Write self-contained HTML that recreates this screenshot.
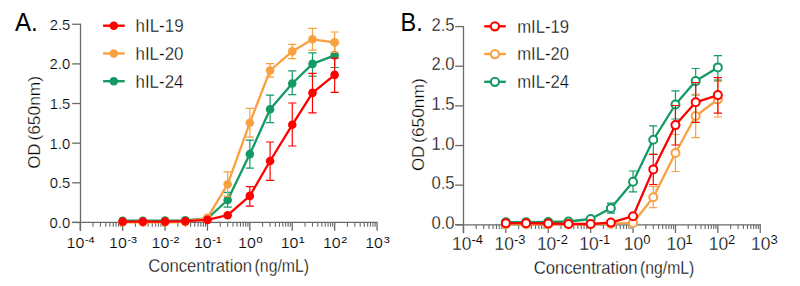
<!DOCTYPE html>
<html><head><meta charset="utf-8"><style>
html,body{margin:0;padding:0;background:#fff;width:800px;height:286px;overflow:hidden}
svg{display:block;font-family:"Liberation Sans",sans-serif}
</style></head><body>
<svg width="800" height="286" viewBox="0 0 800 286" font-family="Liberation Sans, sans-serif">
<path d="M80.50 23.65 V230.75" stroke="#6a6a6a" stroke-width="1.3" fill="none"/>
<path d="M72.20 222.45 H377.65" stroke="#6a6a6a" stroke-width="1.3" fill="none"/>
<path d="M72.20 222.45 H80.50" stroke="#6a6a6a" stroke-width="1.3"/>
<text x="49.60" y="227.89" font-size="15.50" fill="#000000" textLength="20.64" lengthAdjust="spacingAndGlyphs" stroke="#fff" stroke-width="0.23">0.0</text>
<path d="M72.20 182.81 H80.50" stroke="#6a6a6a" stroke-width="1.3"/>
<text x="49.64" y="188.25" font-size="15.50" fill="#000000" textLength="20.64" lengthAdjust="spacingAndGlyphs" stroke="#fff" stroke-width="0.23">0.5</text>
<path d="M72.20 143.17 H80.50" stroke="#6a6a6a" stroke-width="1.3"/>
<text x="49.60" y="148.61" font-size="15.50" fill="#000000" textLength="20.64" lengthAdjust="spacingAndGlyphs" stroke="#fff" stroke-width="0.23">1.0</text>
<path d="M72.20 103.53 H80.50" stroke="#6a6a6a" stroke-width="1.3"/>
<text x="49.64" y="108.97" font-size="15.50" fill="#000000" textLength="20.64" lengthAdjust="spacingAndGlyphs" stroke="#fff" stroke-width="0.23">1.5</text>
<path d="M72.20 63.89 H80.50" stroke="#6a6a6a" stroke-width="1.3"/>
<text x="49.60" y="69.33" font-size="15.50" fill="#000000" textLength="20.64" lengthAdjust="spacingAndGlyphs" stroke="#fff" stroke-width="0.23">2.0</text>
<path d="M72.20 24.25 H80.50" stroke="#6a6a6a" stroke-width="1.3"/>
<text x="49.64" y="29.70" font-size="15.50" fill="#000000" textLength="20.64" lengthAdjust="spacingAndGlyphs" stroke="#fff" stroke-width="0.23">2.5</text>
<path d="M80.25 222.45 V230.75" stroke="#6a6a6a" stroke-width="1.3"/>
<path d="M93.01 222.45 V226.75" stroke="#6a6a6a" stroke-width="1.1"/>
<path d="M100.48 222.45 V226.75" stroke="#6a6a6a" stroke-width="1.1"/>
<path d="M105.78 222.45 V226.75" stroke="#6a6a6a" stroke-width="1.1"/>
<path d="M109.89 222.45 V226.75" stroke="#6a6a6a" stroke-width="1.1"/>
<path d="M113.24 222.45 V226.75" stroke="#6a6a6a" stroke-width="1.1"/>
<path d="M116.08 222.45 V226.75" stroke="#6a6a6a" stroke-width="1.1"/>
<path d="M118.54 222.45 V226.75" stroke="#6a6a6a" stroke-width="1.1"/>
<path d="M120.71 222.45 V226.75" stroke="#6a6a6a" stroke-width="1.1"/>
<text x="66.61" y="247.90" font-size="15.50" fill="#000000" textLength="17.76" lengthAdjust="spacingAndGlyphs" stroke="#fff" stroke-width="0.23">10</text>
<text x="84.95" y="243.00" font-size="9.70" fill="#000000" textLength="9.66" lengthAdjust="spacingAndGlyphs" stroke="#fff" stroke-width="0.00">-4</text>
<path d="M122.65 222.45 V230.75" stroke="#6a6a6a" stroke-width="1.3"/>
<path d="M135.41 222.45 V226.75" stroke="#6a6a6a" stroke-width="1.1"/>
<path d="M142.88 222.45 V226.75" stroke="#6a6a6a" stroke-width="1.1"/>
<path d="M148.18 222.45 V226.75" stroke="#6a6a6a" stroke-width="1.1"/>
<path d="M152.29 222.45 V226.75" stroke="#6a6a6a" stroke-width="1.1"/>
<path d="M155.64 222.45 V226.75" stroke="#6a6a6a" stroke-width="1.1"/>
<path d="M158.48 222.45 V226.75" stroke="#6a6a6a" stroke-width="1.1"/>
<path d="M160.94 222.45 V226.75" stroke="#6a6a6a" stroke-width="1.1"/>
<path d="M163.11 222.45 V226.75" stroke="#6a6a6a" stroke-width="1.1"/>
<text x="109.09" y="247.90" font-size="15.50" fill="#000000" textLength="17.76" lengthAdjust="spacingAndGlyphs" stroke="#fff" stroke-width="0.23">10</text>
<text x="127.43" y="243.00" font-size="9.70" fill="#000000" textLength="9.66" lengthAdjust="spacingAndGlyphs" stroke="#fff" stroke-width="0.00">-3</text>
<path d="M165.05 222.45 V230.75" stroke="#6a6a6a" stroke-width="1.3"/>
<path d="M177.81 222.45 V226.75" stroke="#6a6a6a" stroke-width="1.1"/>
<path d="M185.28 222.45 V226.75" stroke="#6a6a6a" stroke-width="1.1"/>
<path d="M190.58 222.45 V226.75" stroke="#6a6a6a" stroke-width="1.1"/>
<path d="M194.69 222.45 V226.75" stroke="#6a6a6a" stroke-width="1.1"/>
<path d="M198.04 222.45 V226.75" stroke="#6a6a6a" stroke-width="1.1"/>
<path d="M200.88 222.45 V226.75" stroke="#6a6a6a" stroke-width="1.1"/>
<path d="M203.34 222.45 V226.75" stroke="#6a6a6a" stroke-width="1.1"/>
<path d="M205.51 222.45 V226.75" stroke="#6a6a6a" stroke-width="1.1"/>
<text x="151.52" y="247.90" font-size="15.50" fill="#000000" textLength="17.76" lengthAdjust="spacingAndGlyphs" stroke="#fff" stroke-width="0.23">10</text>
<text x="169.86" y="243.00" font-size="9.70" fill="#000000" textLength="9.66" lengthAdjust="spacingAndGlyphs" stroke="#fff" stroke-width="0.00">-2</text>
<path d="M207.45 222.45 V230.75" stroke="#6a6a6a" stroke-width="1.3"/>
<path d="M220.21 222.45 V226.75" stroke="#6a6a6a" stroke-width="1.1"/>
<path d="M227.68 222.45 V226.75" stroke="#6a6a6a" stroke-width="1.1"/>
<path d="M232.98 222.45 V226.75" stroke="#6a6a6a" stroke-width="1.1"/>
<path d="M237.09 222.45 V226.75" stroke="#6a6a6a" stroke-width="1.1"/>
<path d="M240.44 222.45 V226.75" stroke="#6a6a6a" stroke-width="1.1"/>
<path d="M243.28 222.45 V226.75" stroke="#6a6a6a" stroke-width="1.1"/>
<path d="M245.74 222.45 V226.75" stroke="#6a6a6a" stroke-width="1.1"/>
<path d="M247.91 222.45 V226.75" stroke="#6a6a6a" stroke-width="1.1"/>
<text x="193.92" y="247.90" font-size="15.50" fill="#000000" textLength="17.76" lengthAdjust="spacingAndGlyphs" stroke="#fff" stroke-width="0.23">10</text>
<text x="212.26" y="243.00" font-size="9.70" fill="#000000" textLength="9.66" lengthAdjust="spacingAndGlyphs" stroke="#fff" stroke-width="0.00">-1</text>
<path d="M249.85 222.45 V230.75" stroke="#6a6a6a" stroke-width="1.3"/>
<path d="M262.61 222.45 V226.75" stroke="#6a6a6a" stroke-width="1.1"/>
<path d="M270.08 222.45 V226.75" stroke="#6a6a6a" stroke-width="1.1"/>
<path d="M275.38 222.45 V226.75" stroke="#6a6a6a" stroke-width="1.1"/>
<path d="M279.49 222.45 V226.75" stroke="#6a6a6a" stroke-width="1.1"/>
<path d="M282.84 222.45 V226.75" stroke="#6a6a6a" stroke-width="1.1"/>
<path d="M285.68 222.45 V226.75" stroke="#6a6a6a" stroke-width="1.1"/>
<path d="M288.14 222.45 V226.75" stroke="#6a6a6a" stroke-width="1.1"/>
<path d="M290.31 222.45 V226.75" stroke="#6a6a6a" stroke-width="1.1"/>
<text x="238.05" y="247.90" font-size="15.50" fill="#000000" textLength="17.76" lengthAdjust="spacingAndGlyphs" stroke="#fff" stroke-width="0.23">10</text>
<text x="256.43" y="243.00" font-size="9.70" fill="#000000" textLength="6.04" lengthAdjust="spacingAndGlyphs" stroke="#fff" stroke-width="0.00">0</text>
<path d="M292.25 222.45 V230.75" stroke="#6a6a6a" stroke-width="1.3"/>
<path d="M305.01 222.45 V226.75" stroke="#6a6a6a" stroke-width="1.1"/>
<path d="M312.48 222.45 V226.75" stroke="#6a6a6a" stroke-width="1.1"/>
<path d="M317.78 222.45 V226.75" stroke="#6a6a6a" stroke-width="1.1"/>
<path d="M321.89 222.45 V226.75" stroke="#6a6a6a" stroke-width="1.1"/>
<path d="M325.24 222.45 V226.75" stroke="#6a6a6a" stroke-width="1.1"/>
<path d="M328.08 222.45 V226.75" stroke="#6a6a6a" stroke-width="1.1"/>
<path d="M330.54 222.45 V226.75" stroke="#6a6a6a" stroke-width="1.1"/>
<path d="M332.71 222.45 V226.75" stroke="#6a6a6a" stroke-width="1.1"/>
<text x="280.69" y="247.90" font-size="15.50" fill="#000000" textLength="17.76" lengthAdjust="spacingAndGlyphs" stroke="#fff" stroke-width="0.23">10</text>
<text x="298.70" y="243.00" font-size="9.70" fill="#000000" textLength="6.04" lengthAdjust="spacingAndGlyphs" stroke="#fff" stroke-width="0.00">1</text>
<path d="M334.65 222.45 V230.75" stroke="#6a6a6a" stroke-width="1.3"/>
<path d="M347.41 222.45 V226.75" stroke="#6a6a6a" stroke-width="1.1"/>
<path d="M354.88 222.45 V226.75" stroke="#6a6a6a" stroke-width="1.1"/>
<path d="M360.18 222.45 V226.75" stroke="#6a6a6a" stroke-width="1.1"/>
<path d="M364.29 222.45 V226.75" stroke="#6a6a6a" stroke-width="1.1"/>
<path d="M367.64 222.45 V226.75" stroke="#6a6a6a" stroke-width="1.1"/>
<path d="M370.48 222.45 V226.75" stroke="#6a6a6a" stroke-width="1.1"/>
<path d="M372.94 222.45 V226.75" stroke="#6a6a6a" stroke-width="1.1"/>
<path d="M375.11 222.45 V226.75" stroke="#6a6a6a" stroke-width="1.1"/>
<text x="322.97" y="247.90" font-size="15.50" fill="#000000" textLength="17.76" lengthAdjust="spacingAndGlyphs" stroke="#fff" stroke-width="0.23">10</text>
<text x="341.25" y="243.00" font-size="9.70" fill="#000000" textLength="6.04" lengthAdjust="spacingAndGlyphs" stroke="#fff" stroke-width="0.00">2</text>
<path d="M377.05 222.45 V230.75" stroke="#6a6a6a" stroke-width="1.3"/>
<text x="365.26" y="247.90" font-size="15.50" fill="#000000" textLength="17.76" lengthAdjust="spacingAndGlyphs" stroke="#fff" stroke-width="0.23">10</text>
<text x="383.67" y="243.00" font-size="9.70" fill="#000000" textLength="6.04" lengthAdjust="spacingAndGlyphs" stroke="#fff" stroke-width="0.00">3</text>
<path d="M227.68 192.40 V207.10 M223.58 192.40 H231.78 M223.58 207.10 H231.78" stroke="#149a64" stroke-width="1.2" fill="none"/>
<path d="M249.85 140.10 V168.20 M245.75 140.10 H253.95 M245.75 168.20 H253.95" stroke="#149a64" stroke-width="1.2" fill="none"/>
<path d="M270.08 95.20 V122.70 M265.98 95.20 H274.18 M265.98 122.70 H274.18" stroke="#149a64" stroke-width="1.2" fill="none"/>
<path d="M292.25 70.90 V94.60 M288.15 70.90 H296.35 M288.15 94.60 H296.35" stroke="#149a64" stroke-width="1.2" fill="none"/>
<path d="M312.48 52.90 V76.20 M308.38 52.90 H316.58 M308.38 76.20 H316.58" stroke="#149a64" stroke-width="1.2" fill="none"/>
<path d="M334.65 43.50 V67.50 M330.55 43.50 H338.75 M330.55 67.50 H338.75" stroke="#149a64" stroke-width="1.2" fill="none"/>
<path d="M122.65 220.70 L142.88 220.70 L165.05 220.60 L185.28 220.40 L207.45 218.50 L227.68 200.00 L249.85 154.10 L270.08 109.30 L292.25 83.50 L312.48 63.90 L334.65 55.40" stroke="#149a64" stroke-width="2.3" fill="none" stroke-linejoin="round"/>
<circle cx="122.65" cy="220.70" r="4.3" fill="#149a64"/>
<circle cx="142.88" cy="220.70" r="4.3" fill="#149a64"/>
<circle cx="165.05" cy="220.60" r="4.3" fill="#149a64"/>
<circle cx="185.28" cy="220.40" r="4.3" fill="#149a64"/>
<circle cx="207.45" cy="218.50" r="4.3" fill="#149a64"/>
<circle cx="227.68" cy="200.00" r="4.3" fill="#149a64"/>
<circle cx="249.85" cy="154.10" r="4.3" fill="#149a64"/>
<circle cx="270.08" cy="109.30" r="4.3" fill="#149a64"/>
<circle cx="292.25" cy="83.50" r="4.3" fill="#149a64"/>
<circle cx="312.48" cy="63.90" r="4.3" fill="#149a64"/>
<circle cx="334.65" cy="55.40" r="4.3" fill="#149a64"/>
<path d="M227.68 171.90 V196.40 M223.58 171.90 H231.78 M223.58 196.40 H231.78" stroke="#f9a040" stroke-width="1.2" fill="none"/>
<path d="M249.85 108.40 V137.10 M245.75 108.40 H253.95 M245.75 137.10 H253.95" stroke="#f9a040" stroke-width="1.2" fill="none"/>
<path d="M270.08 63.60 V77.20 M265.98 63.60 H274.18 M265.98 77.20 H274.18" stroke="#f9a040" stroke-width="1.2" fill="none"/>
<path d="M292.25 44.30 V58.70 M288.15 44.30 H296.35 M288.15 58.70 H296.35" stroke="#f9a040" stroke-width="1.2" fill="none"/>
<path d="M312.48 28.40 V50.20 M308.38 28.40 H316.58 M308.38 50.20 H316.58" stroke="#f9a040" stroke-width="1.2" fill="none"/>
<path d="M334.65 32.00 V52.30 M330.55 32.00 H338.75 M330.55 52.30 H338.75" stroke="#f9a040" stroke-width="1.2" fill="none"/>
<path d="M122.65 222.40 L142.88 222.40 L165.05 222.30 L185.28 222.00 L207.45 217.80 L227.68 184.20 L249.85 122.70 L270.08 70.50 L292.25 51.40 L312.48 39.30 L334.65 42.40" stroke="#f9a040" stroke-width="2.3" fill="none" stroke-linejoin="round"/>
<circle cx="122.65" cy="222.40" r="4.3" fill="#f9a040"/>
<circle cx="142.88" cy="222.40" r="4.3" fill="#f9a040"/>
<circle cx="165.05" cy="222.30" r="4.3" fill="#f9a040"/>
<circle cx="185.28" cy="222.00" r="4.3" fill="#f9a040"/>
<circle cx="207.45" cy="217.80" r="4.3" fill="#f9a040"/>
<circle cx="227.68" cy="184.20" r="4.3" fill="#f9a040"/>
<circle cx="249.85" cy="122.70" r="4.3" fill="#f9a040"/>
<circle cx="270.08" cy="70.50" r="4.3" fill="#f9a040"/>
<circle cx="292.25" cy="51.40" r="4.3" fill="#f9a040"/>
<circle cx="312.48" cy="39.30" r="4.3" fill="#f9a040"/>
<circle cx="334.65" cy="42.40" r="4.3" fill="#f9a040"/>
<path d="M249.85 186.60 V206.20 M245.75 186.60 H253.95 M245.75 206.20 H253.95" stroke="#ff0000" stroke-width="1.2" fill="none"/>
<path d="M270.08 142.00 V180.30 M265.98 142.00 H274.18 M265.98 180.30 H274.18" stroke="#ff0000" stroke-width="1.2" fill="none"/>
<path d="M292.25 103.00 V146.00 M288.15 103.00 H296.35 M288.15 146.00 H296.35" stroke="#ff0000" stroke-width="1.2" fill="none"/>
<path d="M312.48 73.40 V112.80 M308.38 73.40 H316.58 M308.38 112.80 H316.58" stroke="#ff0000" stroke-width="1.2" fill="none"/>
<path d="M334.65 58.10 V92.30 M330.55 58.10 H338.75 M330.55 92.30 H338.75" stroke="#ff0000" stroke-width="1.2" fill="none"/>
<path d="M122.65 221.60 L142.88 221.60 L165.05 221.60 L185.28 221.20 L207.45 219.90 L227.68 215.20 L249.85 195.90 L270.08 161.00 L292.25 124.80 L312.48 92.90 L334.65 74.90" stroke="#ff0000" stroke-width="2.3" fill="none" stroke-linejoin="round"/>
<circle cx="122.65" cy="221.60" r="4.3" fill="#ff0000"/>
<circle cx="142.88" cy="221.60" r="4.3" fill="#ff0000"/>
<circle cx="165.05" cy="221.60" r="4.3" fill="#ff0000"/>
<circle cx="185.28" cy="221.20" r="4.3" fill="#ff0000"/>
<circle cx="207.45" cy="219.90" r="4.3" fill="#ff0000"/>
<circle cx="227.68" cy="215.20" r="4.3" fill="#ff0000"/>
<circle cx="249.85" cy="195.90" r="4.3" fill="#ff0000"/>
<circle cx="270.08" cy="161.00" r="4.3" fill="#ff0000"/>
<circle cx="292.25" cy="124.80" r="4.3" fill="#ff0000"/>
<circle cx="312.48" cy="92.90" r="4.3" fill="#ff0000"/>
<circle cx="334.65" cy="74.90" r="4.3" fill="#ff0000"/>
<path d="M463.50 26.00 V233.10" stroke="#6a6a6a" stroke-width="1.3" fill="none"/>
<path d="M455.20 224.80 H760.85" stroke="#6a6a6a" stroke-width="1.3" fill="none"/>
<path d="M455.20 224.80 H463.50" stroke="#6a6a6a" stroke-width="1.3"/>
<text x="431.42" y="229.02" font-size="18.30" fill="#000000" textLength="23.10" lengthAdjust="spacingAndGlyphs" stroke="#fff" stroke-width="0.32">0.0</text>
<path d="M455.20 185.16 H463.50" stroke="#6a6a6a" stroke-width="1.3"/>
<text x="431.46" y="189.38" font-size="18.30" fill="#000000" textLength="23.10" lengthAdjust="spacingAndGlyphs" stroke="#fff" stroke-width="0.32">0.5</text>
<path d="M455.20 145.52 H463.50" stroke="#6a6a6a" stroke-width="1.3"/>
<text x="431.42" y="149.74" font-size="18.30" fill="#000000" textLength="23.10" lengthAdjust="spacingAndGlyphs" stroke="#fff" stroke-width="0.32">1.0</text>
<path d="M455.20 105.88 H463.50" stroke="#6a6a6a" stroke-width="1.3"/>
<text x="431.46" y="110.10" font-size="18.30" fill="#000000" textLength="23.10" lengthAdjust="spacingAndGlyphs" stroke="#fff" stroke-width="0.32">1.5</text>
<path d="M455.20 66.24 H463.50" stroke="#6a6a6a" stroke-width="1.3"/>
<text x="431.42" y="70.46" font-size="18.30" fill="#000000" textLength="23.10" lengthAdjust="spacingAndGlyphs" stroke="#fff" stroke-width="0.32">2.0</text>
<path d="M455.20 26.60 H463.50" stroke="#6a6a6a" stroke-width="1.3"/>
<text x="431.46" y="30.82" font-size="18.30" fill="#000000" textLength="23.10" lengthAdjust="spacingAndGlyphs" stroke="#fff" stroke-width="0.32">2.5</text>
<path d="M463.45 224.80 V233.10" stroke="#6a6a6a" stroke-width="1.3"/>
<path d="M476.21 224.80 V229.10" stroke="#6a6a6a" stroke-width="1.1"/>
<path d="M483.68 224.80 V229.10" stroke="#6a6a6a" stroke-width="1.1"/>
<path d="M488.98 224.80 V229.10" stroke="#6a6a6a" stroke-width="1.1"/>
<path d="M493.09 224.80 V229.10" stroke="#6a6a6a" stroke-width="1.1"/>
<path d="M496.44 224.80 V229.10" stroke="#6a6a6a" stroke-width="1.1"/>
<path d="M499.28 224.80 V229.10" stroke="#6a6a6a" stroke-width="1.1"/>
<path d="M501.74 224.80 V229.10" stroke="#6a6a6a" stroke-width="1.1"/>
<path d="M503.91 224.80 V229.10" stroke="#6a6a6a" stroke-width="1.1"/>
<text x="451.99" y="250.00" font-size="18.20" fill="#000000" textLength="19.43" lengthAdjust="spacingAndGlyphs" stroke="#fff" stroke-width="0.32">10</text>
<text x="471.45" y="243.90" font-size="12.00" fill="#000000" textLength="11.52" lengthAdjust="spacingAndGlyphs" stroke="#fff" stroke-width="0.09">-4</text>
<path d="M505.85 224.80 V233.10" stroke="#6a6a6a" stroke-width="1.3"/>
<path d="M518.61 224.80 V229.10" stroke="#6a6a6a" stroke-width="1.1"/>
<path d="M526.08 224.80 V229.10" stroke="#6a6a6a" stroke-width="1.1"/>
<path d="M531.38 224.80 V229.10" stroke="#6a6a6a" stroke-width="1.1"/>
<path d="M535.49 224.80 V229.10" stroke="#6a6a6a" stroke-width="1.1"/>
<path d="M538.84 224.80 V229.10" stroke="#6a6a6a" stroke-width="1.1"/>
<path d="M541.68 224.80 V229.10" stroke="#6a6a6a" stroke-width="1.1"/>
<path d="M544.14 224.80 V229.10" stroke="#6a6a6a" stroke-width="1.1"/>
<path d="M546.31 224.80 V229.10" stroke="#6a6a6a" stroke-width="1.1"/>
<text x="494.49" y="250.00" font-size="18.20" fill="#000000" textLength="19.43" lengthAdjust="spacingAndGlyphs" stroke="#fff" stroke-width="0.32">10</text>
<text x="513.95" y="243.90" font-size="12.00" fill="#000000" textLength="11.52" lengthAdjust="spacingAndGlyphs" stroke="#fff" stroke-width="0.09">-3</text>
<path d="M548.25 224.80 V233.10" stroke="#6a6a6a" stroke-width="1.3"/>
<path d="M561.01 224.80 V229.10" stroke="#6a6a6a" stroke-width="1.1"/>
<path d="M568.48 224.80 V229.10" stroke="#6a6a6a" stroke-width="1.1"/>
<path d="M573.78 224.80 V229.10" stroke="#6a6a6a" stroke-width="1.1"/>
<path d="M577.89 224.80 V229.10" stroke="#6a6a6a" stroke-width="1.1"/>
<path d="M581.24 224.80 V229.10" stroke="#6a6a6a" stroke-width="1.1"/>
<path d="M584.08 224.80 V229.10" stroke="#6a6a6a" stroke-width="1.1"/>
<path d="M586.54 224.80 V229.10" stroke="#6a6a6a" stroke-width="1.1"/>
<path d="M588.71 224.80 V229.10" stroke="#6a6a6a" stroke-width="1.1"/>
<text x="536.92" y="250.00" font-size="18.20" fill="#000000" textLength="19.43" lengthAdjust="spacingAndGlyphs" stroke="#fff" stroke-width="0.32">10</text>
<text x="556.38" y="243.90" font-size="12.00" fill="#000000" textLength="11.52" lengthAdjust="spacingAndGlyphs" stroke="#fff" stroke-width="0.09">-2</text>
<path d="M590.65 224.80 V233.10" stroke="#6a6a6a" stroke-width="1.3"/>
<path d="M603.41 224.80 V229.10" stroke="#6a6a6a" stroke-width="1.1"/>
<path d="M610.88 224.80 V229.10" stroke="#6a6a6a" stroke-width="1.1"/>
<path d="M616.18 224.80 V229.10" stroke="#6a6a6a" stroke-width="1.1"/>
<path d="M620.29 224.80 V229.10" stroke="#6a6a6a" stroke-width="1.1"/>
<path d="M623.64 224.80 V229.10" stroke="#6a6a6a" stroke-width="1.1"/>
<path d="M626.48 224.80 V229.10" stroke="#6a6a6a" stroke-width="1.1"/>
<path d="M628.94 224.80 V229.10" stroke="#6a6a6a" stroke-width="1.1"/>
<path d="M631.11 224.80 V229.10" stroke="#6a6a6a" stroke-width="1.1"/>
<text x="579.32" y="250.00" font-size="18.20" fill="#000000" textLength="19.43" lengthAdjust="spacingAndGlyphs" stroke="#fff" stroke-width="0.32">10</text>
<text x="598.78" y="243.90" font-size="12.00" fill="#000000" textLength="11.52" lengthAdjust="spacingAndGlyphs" stroke="#fff" stroke-width="0.09">-1</text>
<path d="M633.05 224.80 V233.10" stroke="#6a6a6a" stroke-width="1.3"/>
<path d="M645.81 224.80 V229.10" stroke="#6a6a6a" stroke-width="1.1"/>
<path d="M653.28 224.80 V229.10" stroke="#6a6a6a" stroke-width="1.1"/>
<path d="M658.58 224.80 V229.10" stroke="#6a6a6a" stroke-width="1.1"/>
<path d="M662.69 224.80 V229.10" stroke="#6a6a6a" stroke-width="1.1"/>
<path d="M666.04 224.80 V229.10" stroke="#6a6a6a" stroke-width="1.1"/>
<path d="M668.88 224.80 V229.10" stroke="#6a6a6a" stroke-width="1.1"/>
<path d="M671.34 224.80 V229.10" stroke="#6a6a6a" stroke-width="1.1"/>
<path d="M673.51 224.80 V229.10" stroke="#6a6a6a" stroke-width="1.1"/>
<text x="623.78" y="250.00" font-size="18.20" fill="#000000" textLength="19.43" lengthAdjust="spacingAndGlyphs" stroke="#fff" stroke-width="0.32">10</text>
<text x="643.30" y="243.90" font-size="12.00" fill="#000000" textLength="7.21" lengthAdjust="spacingAndGlyphs" stroke="#fff" stroke-width="0.09">0</text>
<path d="M675.45 224.80 V233.10" stroke="#6a6a6a" stroke-width="1.3"/>
<path d="M688.21 224.80 V229.10" stroke="#6a6a6a" stroke-width="1.1"/>
<path d="M695.68 224.80 V229.10" stroke="#6a6a6a" stroke-width="1.1"/>
<path d="M700.98 224.80 V229.10" stroke="#6a6a6a" stroke-width="1.1"/>
<path d="M705.09 224.80 V229.10" stroke="#6a6a6a" stroke-width="1.1"/>
<path d="M708.44 224.80 V229.10" stroke="#6a6a6a" stroke-width="1.1"/>
<path d="M711.28 224.80 V229.10" stroke="#6a6a6a" stroke-width="1.1"/>
<path d="M713.74 224.80 V229.10" stroke="#6a6a6a" stroke-width="1.1"/>
<path d="M715.91 224.80 V229.10" stroke="#6a6a6a" stroke-width="1.1"/>
<text x="666.47" y="250.00" font-size="18.20" fill="#000000" textLength="19.43" lengthAdjust="spacingAndGlyphs" stroke="#fff" stroke-width="0.32">10</text>
<text x="685.54" y="243.90" font-size="12.00" fill="#000000" textLength="7.21" lengthAdjust="spacingAndGlyphs" stroke="#fff" stroke-width="0.09">1</text>
<path d="M717.85 224.80 V233.10" stroke="#6a6a6a" stroke-width="1.3"/>
<path d="M730.61 224.80 V229.10" stroke="#6a6a6a" stroke-width="1.1"/>
<path d="M738.08 224.80 V229.10" stroke="#6a6a6a" stroke-width="1.1"/>
<path d="M743.38 224.80 V229.10" stroke="#6a6a6a" stroke-width="1.1"/>
<path d="M747.49 224.80 V229.10" stroke="#6a6a6a" stroke-width="1.1"/>
<path d="M750.84 224.80 V229.10" stroke="#6a6a6a" stroke-width="1.1"/>
<path d="M753.68 224.80 V229.10" stroke="#6a6a6a" stroke-width="1.1"/>
<path d="M756.14 224.80 V229.10" stroke="#6a6a6a" stroke-width="1.1"/>
<path d="M758.31 224.80 V229.10" stroke="#6a6a6a" stroke-width="1.1"/>
<text x="708.73" y="250.00" font-size="18.20" fill="#000000" textLength="19.43" lengthAdjust="spacingAndGlyphs" stroke="#fff" stroke-width="0.32">10</text>
<text x="728.12" y="243.90" font-size="12.00" fill="#000000" textLength="7.21" lengthAdjust="spacingAndGlyphs" stroke="#fff" stroke-width="0.09">2</text>
<path d="M760.25 224.80 V233.10" stroke="#6a6a6a" stroke-width="1.3"/>
<text x="751.00" y="250.00" font-size="18.20" fill="#000000" textLength="19.43" lengthAdjust="spacingAndGlyphs" stroke="#fff" stroke-width="0.32">10</text>
<text x="770.55" y="243.90" font-size="12.00" fill="#000000" textLength="7.21" lengthAdjust="spacingAndGlyphs" stroke="#fff" stroke-width="0.09">3</text>
<path d="M610.88 203.20 V213.20 M606.78 203.20 H614.98 M606.78 213.20 H614.98" stroke="#149a64" stroke-width="1.2" fill="none"/>
<path d="M633.05 171.00 V191.90 M628.95 171.00 H637.15 M628.95 191.90 H637.15" stroke="#149a64" stroke-width="1.2" fill="none"/>
<path d="M653.28 125.90 V154.30 M649.18 125.90 H657.38 M649.18 154.30 H657.38" stroke="#149a64" stroke-width="1.2" fill="none"/>
<path d="M675.45 90.90 V119.00 M671.35 90.90 H679.55 M671.35 119.00 H679.55" stroke="#149a64" stroke-width="1.2" fill="none"/>
<path d="M695.68 68.50 V95.00 M691.58 68.50 H699.78 M691.58 95.00 H699.78" stroke="#149a64" stroke-width="1.2" fill="none"/>
<path d="M717.85 55.70 V80.20 M713.75 55.70 H721.95 M713.75 80.20 H721.95" stroke="#149a64" stroke-width="1.2" fill="none"/>
<path d="M505.85 222.20 L526.08 222.20 L548.25 222.00 L568.48 221.50 L590.65 219.00 L610.88 208.30 L633.05 181.80 L653.28 139.80 L675.45 104.50 L695.68 81.10 L717.85 67.40" stroke="#149a64" stroke-width="2.3" fill="none" stroke-linejoin="round"/>
<circle cx="505.85" cy="222.20" r="4.0" fill="#fff" stroke="#149a64" stroke-width="2.0"/>
<circle cx="526.08" cy="222.20" r="4.0" fill="#fff" stroke="#149a64" stroke-width="2.0"/>
<circle cx="548.25" cy="222.00" r="4.0" fill="#fff" stroke="#149a64" stroke-width="2.0"/>
<circle cx="568.48" cy="221.50" r="4.0" fill="#fff" stroke="#149a64" stroke-width="2.0"/>
<circle cx="590.65" cy="219.00" r="4.0" fill="#fff" stroke="#149a64" stroke-width="2.0"/>
<circle cx="610.88" cy="208.30" r="4.0" fill="#fff" stroke="#149a64" stroke-width="2.0"/>
<circle cx="633.05" cy="181.80" r="4.0" fill="#fff" stroke="#149a64" stroke-width="2.0"/>
<circle cx="653.28" cy="139.80" r="4.0" fill="#fff" stroke="#149a64" stroke-width="2.0"/>
<circle cx="675.45" cy="104.50" r="4.0" fill="#fff" stroke="#149a64" stroke-width="2.0"/>
<circle cx="695.68" cy="81.10" r="4.0" fill="#fff" stroke="#149a64" stroke-width="2.0"/>
<circle cx="717.85" cy="67.40" r="4.0" fill="#fff" stroke="#149a64" stroke-width="2.0"/>
<path d="M653.28 186.30 V207.60 M649.18 186.30 H657.38 M649.18 207.60 H657.38" stroke="#f9a040" stroke-width="1.2" fill="none"/>
<path d="M675.45 134.50 V171.50 M671.35 134.50 H679.55 M671.35 171.50 H679.55" stroke="#f9a040" stroke-width="1.2" fill="none"/>
<path d="M695.68 94.30 V137.70 M691.58 94.30 H699.78 M691.58 137.70 H699.78" stroke="#f9a040" stroke-width="1.2" fill="none"/>
<path d="M717.85 81.50 V117.00 M713.75 81.50 H721.95 M713.75 117.00 H721.95" stroke="#f9a040" stroke-width="1.2" fill="none"/>
<path d="M505.85 224.20 L526.08 224.20 L548.25 224.30 L568.48 224.30 L590.65 224.30 L610.88 223.70 L633.05 222.90 L653.28 197.30 L675.45 153.00 L695.68 116.00 L717.85 99.50" stroke="#f9a040" stroke-width="2.3" fill="none" stroke-linejoin="round"/>
<circle cx="505.85" cy="224.20" r="4.0" fill="#fff" stroke="#f9a040" stroke-width="2.0"/>
<circle cx="526.08" cy="224.20" r="4.0" fill="#fff" stroke="#f9a040" stroke-width="2.0"/>
<circle cx="548.25" cy="224.30" r="4.0" fill="#fff" stroke="#f9a040" stroke-width="2.0"/>
<circle cx="568.48" cy="224.30" r="4.0" fill="#fff" stroke="#f9a040" stroke-width="2.0"/>
<circle cx="590.65" cy="224.30" r="4.0" fill="#fff" stroke="#f9a040" stroke-width="2.0"/>
<circle cx="610.88" cy="223.70" r="4.0" fill="#fff" stroke="#f9a040" stroke-width="2.0"/>
<circle cx="633.05" cy="222.90" r="4.0" fill="#fff" stroke="#f9a040" stroke-width="2.0"/>
<circle cx="653.28" cy="197.30" r="4.0" fill="#fff" stroke="#f9a040" stroke-width="2.0"/>
<circle cx="675.45" cy="153.00" r="4.0" fill="#fff" stroke="#f9a040" stroke-width="2.0"/>
<circle cx="695.68" cy="116.00" r="4.0" fill="#fff" stroke="#f9a040" stroke-width="2.0"/>
<circle cx="717.85" cy="99.50" r="4.0" fill="#fff" stroke="#f9a040" stroke-width="2.0"/>
<path d="M653.28 154.30 V184.50 M649.18 154.30 H657.38 M649.18 184.50 H657.38" stroke="#ff0000" stroke-width="1.2" fill="none"/>
<path d="M675.45 105.50 V145.00 M671.35 105.50 H679.55 M671.35 145.00 H679.55" stroke="#ff0000" stroke-width="1.2" fill="none"/>
<path d="M695.68 82.50 V122.30 M691.58 82.50 H699.78 M691.58 122.30 H699.78" stroke="#ff0000" stroke-width="1.2" fill="none"/>
<path d="M717.85 77.60 V113.10 M713.75 77.60 H721.95 M713.75 113.10 H721.95" stroke="#ff0000" stroke-width="1.2" fill="none"/>
<path d="M505.85 223.30 L526.08 223.20 L548.25 223.50 L568.48 223.90 L590.65 224.00 L610.88 222.60 L633.05 216.20 L653.28 169.40 L675.45 125.10 L695.68 102.30 L717.85 95.10" stroke="#ff0000" stroke-width="2.3" fill="none" stroke-linejoin="round"/>
<circle cx="505.85" cy="223.30" r="4.0" fill="#fff" stroke="#ff0000" stroke-width="2.0"/>
<circle cx="526.08" cy="223.20" r="4.0" fill="#fff" stroke="#ff0000" stroke-width="2.0"/>
<circle cx="548.25" cy="223.50" r="4.0" fill="#fff" stroke="#ff0000" stroke-width="2.0"/>
<circle cx="568.48" cy="223.90" r="4.0" fill="#fff" stroke="#ff0000" stroke-width="2.0"/>
<circle cx="590.65" cy="224.00" r="4.0" fill="#fff" stroke="#ff0000" stroke-width="2.0"/>
<circle cx="610.88" cy="222.60" r="4.0" fill="#fff" stroke="#ff0000" stroke-width="2.0"/>
<circle cx="633.05" cy="216.20" r="4.0" fill="#fff" stroke="#ff0000" stroke-width="2.0"/>
<circle cx="653.28" cy="169.40" r="4.0" fill="#fff" stroke="#ff0000" stroke-width="2.0"/>
<circle cx="675.45" cy="125.10" r="4.0" fill="#fff" stroke="#ff0000" stroke-width="2.0"/>
<circle cx="695.68" cy="102.30" r="4.0" fill="#fff" stroke="#ff0000" stroke-width="2.0"/>
<circle cx="717.85" cy="95.10" r="4.0" fill="#fff" stroke="#ff0000" stroke-width="2.0"/>
<text x="14.94" y="30.70" font-size="26.33" fill="#000" textLength="22.79" lengthAdjust="spacingAndGlyphs" stroke="none" stroke-width="0.32" >A.</text>
<text x="400.46" y="30.70" font-size="25.89" fill="#000" textLength="22.21" lengthAdjust="spacingAndGlyphs" stroke="none" stroke-width="0.32" >B.</text>
<text x="148.17" y="272.02" font-size="17.81" fill="#000000" textLength="103.84" lengthAdjust="spacingAndGlyphs" stroke="#fff" stroke-width="0.32">Concentration</text>
<text x="254.61" y="272.02" font-size="17.81" fill="#000000" textLength="54.38" lengthAdjust="spacingAndGlyphs" stroke="#fff" stroke-width="0.32">(ng/mL)</text>
<text x="533.67" y="274.11" font-size="19.08" fill="#000000" textLength="103.84" lengthAdjust="spacingAndGlyphs" stroke="#fff" stroke-width="0.32">Concentration</text>
<text x="640.12" y="274.11" font-size="19.08" fill="#000000" textLength="54.17" lengthAdjust="spacingAndGlyphs" stroke="#fff" stroke-width="0.32">(ng/mL)</text>
<text transform="translate(40.04 168.80) rotate(-90)" x="0" y="0" font-size="16.40" fill="#000000" textLength="25.41" lengthAdjust="spacingAndGlyphs" stroke="#fff" stroke-width="0.27">OD</text>
<text transform="translate(40.04 140.59) rotate(-90)" x="0" y="0" font-size="16.40" fill="#000000" textLength="64.65" lengthAdjust="spacingAndGlyphs" stroke="#fff" stroke-width="0.27">(650nm)</text>
<text transform="translate(423.83 171.10) rotate(-90)" x="0" y="0" font-size="16.68" fill="#000000" textLength="25.41" lengthAdjust="spacingAndGlyphs" stroke="#fff" stroke-width="0.28">OD</text>
<text transform="translate(423.83 142.89) rotate(-90)" x="0" y="0" font-size="16.68" fill="#000000" textLength="64.65" lengthAdjust="spacingAndGlyphs" stroke="#fff" stroke-width="0.28">(650nm)</text>
<path d="M103.10 25.70 H124.70" stroke="#ff0000" stroke-width="2.4"/>
<circle cx="113.80" cy="25.70" r="4.3" fill="#ff0000"/>
<text x="135.51" y="31.82" font-size="17.55" fill="#000000" textLength="48.10" lengthAdjust="spacingAndGlyphs" stroke="#fff" stroke-width="0.32" >hIL-19</text>
<path d="M103.10 53.45 H124.70" stroke="#f9a040" stroke-width="2.4"/>
<circle cx="113.80" cy="53.45" r="4.3" fill="#f9a040"/>
<text x="135.52" y="59.57" font-size="17.55" fill="#000000" textLength="47.92" lengthAdjust="spacingAndGlyphs" stroke="#fff" stroke-width="0.32" >hIL-20</text>
<path d="M103.10 81.20 H124.70" stroke="#149a64" stroke-width="2.4"/>
<circle cx="113.80" cy="81.20" r="4.3" fill="#149a64"/>
<text x="135.51" y="87.50" font-size="17.79" fill="#000000" textLength="48.00" lengthAdjust="spacingAndGlyphs" stroke="#fff" stroke-width="0.32" >hIL-24</text>
<path d="M484.20 26.30 H505.80" stroke="#ff0000" stroke-width="2.4"/>
<circle cx="494.90" cy="26.30" r="4.1" fill="#fff" stroke="#ff0000" stroke-width="2.1"/>
<text x="517.17" y="32.72" font-size="17.81" fill="#000000" textLength="51.92" lengthAdjust="spacingAndGlyphs" stroke="#fff" stroke-width="0.32" >mIL-19</text>
<path d="M484.20 54.05 H505.80" stroke="#f9a040" stroke-width="2.4"/>
<circle cx="494.90" cy="54.05" r="4.1" fill="#fff" stroke="#f9a040" stroke-width="2.1"/>
<text x="517.18" y="60.47" font-size="17.81" fill="#000000" textLength="51.79" lengthAdjust="spacingAndGlyphs" stroke="#fff" stroke-width="0.32" >mIL-20</text>
<path d="M484.20 81.80 H505.80" stroke="#149a64" stroke-width="2.4"/>
<circle cx="494.90" cy="81.80" r="4.1" fill="#fff" stroke="#149a64" stroke-width="2.1"/>
<text x="517.18" y="88.40" font-size="18.06" fill="#000000" textLength="51.82" lengthAdjust="spacingAndGlyphs" stroke="#fff" stroke-width="0.32" >mIL-24</text>
</svg>
</body></html>
